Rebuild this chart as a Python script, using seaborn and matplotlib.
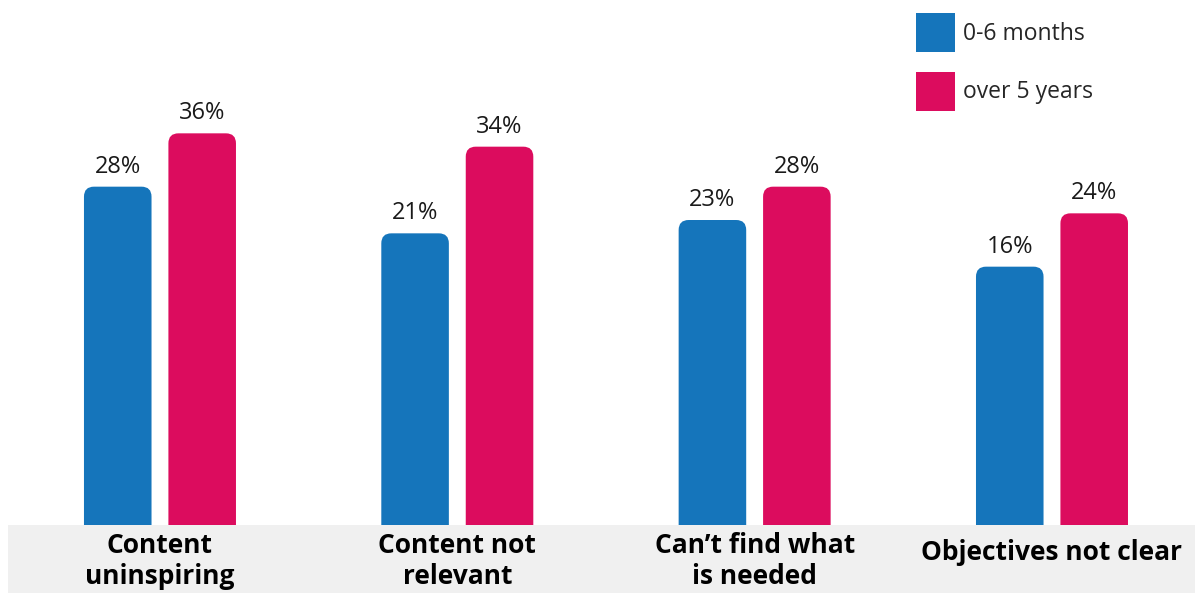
import matplotlib
matplotlib.use("Agg")
import matplotlib.pyplot as plt
import numpy as np
import pandas as pd
import seaborn as sns
from matplotlib.patches import FancyBboxPatch, Rectangle
from matplotlib.transforms import blended_transform_factory

# ---- data ----
categories = ["Content\nuninspiring", "Content not\nrelevant",
              "Can\u2019t find what\nis needed", "Objectives not clear"]
series = ["0-6 months", "over 5 years"]
values_0_6_months = [28, 21, 23, 16]
values_over_5_years = [36, 34, 28, 24]
colors = ["#1575BB", "#DC0C5E"]

df = pd.DataFrame({
    "category": categories * 2,
    "group": [series[0]] * len(categories) + [series[1]] * len(categories),
    "value": values_0_6_months + values_over_5_years,
})

sns.set_theme(style="white")
plt.rcParams["font.family"] = ["Open Sans", "DejaVu Sans"]

W, H = 1195, 593
fig = plt.figure(figsize=(W / 100, H / 100), dpi=100)
fig.patch.set_facecolor("white")
band_px = 68
ax = fig.add_axes([0, band_px / H, 1, 1 - band_px / H])

sns.barplot(data=df, x="category", y="value", hue="group", order=categories,
            hue_order=series, palette=colors, saturation=1, width=0.568,
            gap=0.2, linewidth=0, ax=ax, legend=False)

ymin, ymax = -22.75, 56
ax.set_ylim(ymin, ymax)
ax.set_xlim(-0.538, 3.481)
ax.set_axis_off()

# rounded-top bars
px_x = ax.bbox.width / (3.481 + 0.538)
px_y = ax.bbox.height / (ymax - ymin)
r_px = 10
rx = r_px / px_x
ry = r_px / px_y
bars = list(ax.patches)
for b in bars:
    x, w, h = b.get_x(), b.get_width(), b.get_height()
    fc = b.get_facecolor()
    b.set_visible(False)
    base = ymin - 5
    ax.add_patch(FancyBboxPatch((x, base), w, h - base,
                                boxstyle=f"round,pad=0,rounding_size={rx}",
                                mutation_aspect=ry / rx, facecolor=fc,
                                edgecolor="none", clip_on=True))
    ax.annotate(f"{h:.0f}%", (x + w / 2, h), xytext=(0, 10),
                textcoords="offset points", ha="center", va="baseline",
                fontsize=17, color="#1a1a1a")

# gray band with category labels
fig.add_artist(Rectangle((8 / W, 0), 1, band_px / H, transform=fig.transFigure,
                         facecolor="#F0F0F0", edgecolor="none", zorder=-1))
trans = blended_transform_factory(ax.transData, fig.transFigure)
for i, cat in enumerate(categories):
    ypix = 561 if "\n" in cat else 553
    ax.text(i, (H - ypix) / H, cat, transform=trans, ha="center", va="center",
            fontsize=19, fontweight="bold", color="black", linespacing=1.2,
            clip_on=False)

# legend
handles = [Rectangle((0, 0), 1, 1, facecolor=c, edgecolor="none") for c in colors]
fig.legend(handles, series, loc="upper left", bbox_to_anchor=(916 / W, 1 - 13 / H),
           bbox_transform=fig.transFigure, frameon=False, borderpad=0,
           borderaxespad=0, handlelength=1.7, handleheight=2.25,
           handletextpad=0.35, labelspacing=0.85, fontsize=16.5)

fig.savefig("out.png", dpi=100)
